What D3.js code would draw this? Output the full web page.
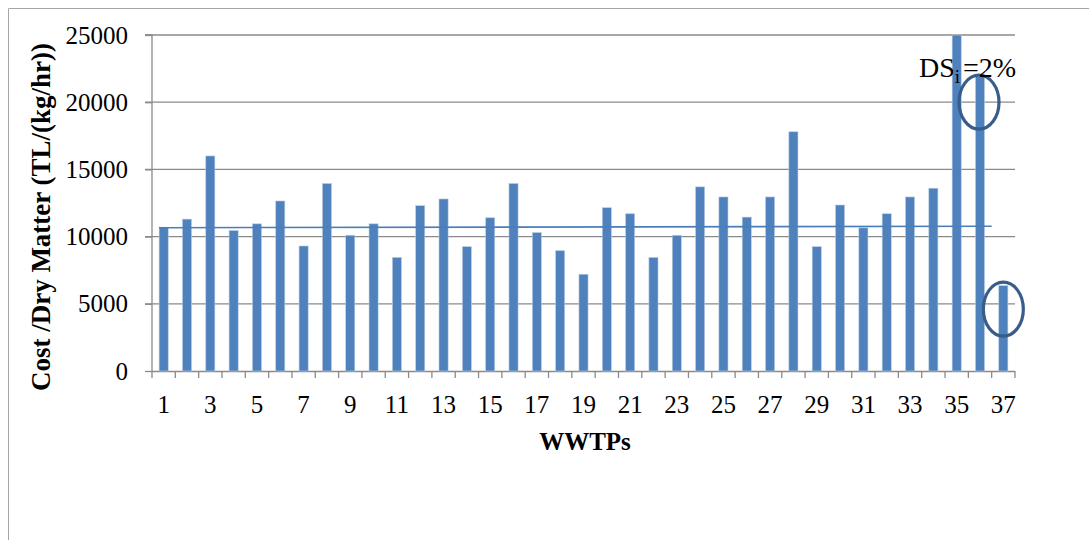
<!DOCTYPE html>
<html><head><meta charset="utf-8">
<script src="https://cdn.jsdelivr.net/npm/d3@7/dist/d3.min.js"></script>
<style>body{margin:0;background:#fff}svg{display:block}</style>
</head><body>
<svg id="chart" width="1089" height="540"></svg>
<script>
const categories = ["1","2","3","4","5","6","7","8","9","10","11","12","13","14","15","16","17","18","19","20","21","22","23","24","25","26","27","28","29","30","31","32","33","34","35","36","37"];
const values = [10700,11300,16000,10450,10950,12650,9300,13950,10100,10950,8450,12300,12800,9250,11400,13950,10300,8950,7200,12150,11700,8450,10100,13700,12950,11450,12950,17800,9250,12350,10650,11700,12950,13600,25000,21900,6350];
const yTicks = [0,5000,10000,15000,20000,25000];
const xTickLabels = ["1","3","5","7","9","11","13","15","17","19","21","23","25","27","29","31","33","35","37"];
const trendPos = [0.8, 36.5];
const trendVal = [10660, 10770];
const circledCats = ["36","37"];
const circledVals = [20000, 4600];
const yTitle = "Cost /Dry Matter (TL/(kg/hr))";
const xTitle = "WWTPs";

const L = 152, R = 1015, T = 35, B = 371;
const serif = "Liberation Serif";
const svg = d3.select("#chart");

// outer frame
svg.append("path").attr("d","M1089,8.5 H8.5 V540").attr("fill","none").attr("stroke","#a6a6a6").attr("stroke-width",1);

const x = d3.scaleBand().domain(categories).range([L,R]).paddingInner(0.61).paddingOuter(0.305);
const y = d3.scaleLinear().domain([0,25000]).range([B,T]);
const step = x.step();
const cont = d3.scaleLinear().domain([1,37]).range([x("1")+x.bandwidth()/2, x("37")+x.bandwidth()/2]);

// gridlines
svg.append("g").selectAll("line").data(yTicks.slice(1)).join("line")
  .attr("x1",L-7).attr("x2",R).attr("y1",d=>y(d)).attr("y2",d=>y(d))
  .attr("stroke","#8a8a8a").attr("stroke-width",1.3);

// y axis
const ya = svg.append("g").attr("transform",`translate(${L},0)`)
  .call(d3.axisLeft(y).tickValues(yTicks).tickSize(7).tickPadding(17).tickFormat(d3.format("d")));
ya.attr("font-family",serif).attr("font-size",25);
ya.select(".domain").attr("stroke","#8a8a8a").attr("stroke-width",1.3).attr("d",`M-7,${T}H0V${B+7}`);
ya.selectAll(".tick line").attr("stroke","#8a8a8a").attr("stroke-width",1.3);
ya.selectAll(".tick text").style("font-family",serif).style("font-size","25px").attr("fill","#000");

// x axis line and ticks at boundaries
svg.append("line").attr("x1",L).attr("x2",R).attr("y1",B+0.5).attr("y2",B+0.5).attr("stroke","#8a8a8a").attr("stroke-width",1.3);
svg.append("g").selectAll("line").data(categories).join("line")
  .attr("x1",d=>x(d)-step*x.paddingOuter()+step).attr("x2",d=>x(d)-step*x.paddingOuter()+step)
  .attr("y1",B).attr("y2",B+7).attr("stroke","#8a8a8a").attr("stroke-width",1.3);
svg.append("g").selectAll("text").data(xTickLabels).join("text")
  .attr("x",d=>x(d)+x.bandwidth()/2).attr("y",413).attr("text-anchor","middle")
  .style("font-family",serif).style("font-size","25px").text(d=>d);

// bars
svg.append("g").selectAll("rect").data(values).join("rect")
  .attr("x",(d,i)=>x(categories[i])).attr("width",x.bandwidth())
  .attr("y",d=>y(d)).attr("height",d=>B-y(d))
  .attr("fill","#4f81bd").attr("stroke","#b9cde5").attr("stroke-width",0.6);

// trend line
svg.append("line").attr("x1",cont(trendPos[0])).attr("x2",cont(trendPos[1]))
  .attr("y1",y(trendVal[0])).attr("y2",y(trendVal[1]))
  .attr("stroke","#4a7ebb").attr("stroke-width",1.6);

// circles
svg.append("g").selectAll("ellipse").data(circledCats).join("ellipse")
  .attr("cx",(d,i)=>x(d)+x.bandwidth()/2 - (i===0?1:0)).attr("cy",(d,i)=>y(circledVals[i]))
  .attr("rx",20).attr("ry",27).attr("fill","none").attr("stroke","#385d8a").attr("stroke-width",3.2);

// annotation
const ann = svg.append("text").attr("x",919).attr("y",77).style("font-family",serif).style("font-size","28px").attr("fill","#000");
ann.append("tspan").text("DS");
ann.append("tspan").style("font-size","19px").attr("dy",6).text("i");
ann.append("tspan").attr("dy",-6).attr("dx",3).text("=2%");

// axis titles
svg.append("text").attr("transform",`translate(50,${217}) rotate(-90)`).attr("text-anchor","middle")
  .style("font-family",serif).style("font-weight","bold").style("font-size","27px").text(yTitle);
svg.append("text").attr("x",585).attr("y",450).attr("text-anchor","middle")
  .style("font-family",serif).style("font-weight","bold").style("font-size","25px").text(xTitle);
</script>
</body></html>
